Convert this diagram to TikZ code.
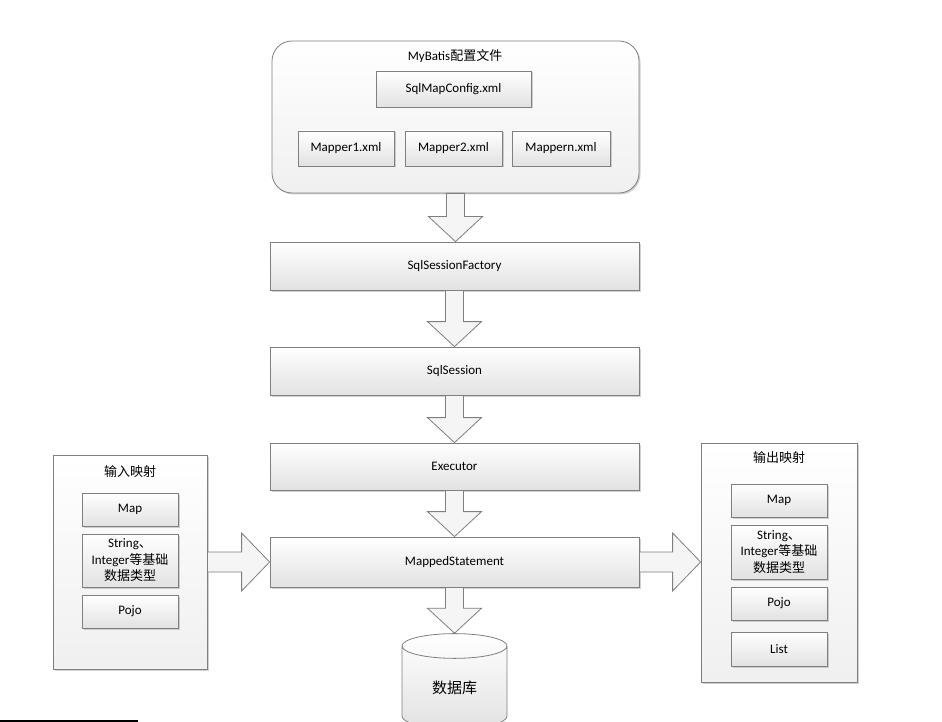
\documentclass[tikz,border=0pt]{standalone}
\usepackage{fontspec}
\setmainfont{Carlito}
\newfontfamily\cjk{Noto Sans CJK SC}
\usetikzlibrary{shapes.geometric,shadows,calc}

\definecolor{boxline}{HTML}{7F7F7F}
\definecolor{boxbot}{HTML}{E2E2E2}

% fat block arrows between two named nodes
\newcommand\fatdown[2]{%
  \draw[blockarrow] let \p1=(#1.south), \p2=(#2.north) in
    (\x1-9pt,\y1) -- (\x1-9pt,\y2+25pt) -- (\x1-27pt,\y2+25pt) -- (\x1,\y2)
    -- (\x1+27pt,\y2+25pt) -- (\x1+9pt,\y2+25pt) -- (\x1+9pt,\y1) -- cycle;}
\newcommand\fatright[2]{%
  \draw[blockarrow] let \p1=(#1.east), \p2=(#2.west) in
    (\x1,\y1+10pt) -- (\x2-28pt,\y1+10pt) -- (\x2-28pt,\y1+29pt) -- (\x2,\y1)
    -- (\x2-28pt,\y1-29pt) -- (\x2-28pt,\y1-10pt) -- (\x1,\y1-10pt) -- cycle;}

\begin{document}
\begin{tikzpicture}[x=1pt, y=-1pt,
    every node/.style={font=\fontsize{13}{16.5}\selectfont},
    box/.style={draw=boxline, line width=0.8pt, top color=white, bottom color=boxbot,
      drop shadow={shadow xshift=1.5pt, shadow yshift=-1.5pt, fill=black!30, opacity=0.6},
      inner sep=0pt, align=center},
    group/.style={box, top color=white, bottom color=black!6},
    title/.style={inner sep=0pt},
    blockarrow/.style={draw=boxline, line width=0.8pt, fill=black!4},
    dbcyl/.style={shape=cylinder, shape border rotate=90, aspect=0.55, draw=boxline,
      line width=0.8pt, top color=white, bottom color=boxbot, inner sep=0pt,
      font=\fontsize{15}{18}\selectfont}
    ]
    \useasboundingbox (0,0) rectangle (942,722);

    % MyBatis config group
    \node[group, rounded corners=20pt, minimum width=367pt, minimum height=152pt] (cfg) at (455.5,117) {};
    \node[title] (cfgtitle) at (455,56) {MyBatis{\cjk 配置文件}};
    \node[box, minimum width=155pt, minimum height=36pt] (smc) at (453.5,89) {SqlMapConfig.xml};
    \node[box, minimum width=96pt, minimum height=35pt] (m1) at (346,148.5) {Mapper1.xml};
    \node[box, minimum width=97pt, minimum height=35pt] (m2) at (453.5,148.5) {Mapper2.xml};
    \node[box, minimum width=98pt, minimum height=35pt] (mn) at (561,148.5) {Mappern.xml};

    % main chain
    \node[box, minimum width=369pt, minimum height=48pt] (ssf) at (454.5,266) {SqlSessionFactory};
    \node[box, minimum width=369pt, minimum height=48pt] (ss) at (454.5,371) {SqlSession};
    \node[box, minimum width=369pt, minimum height=47pt] (ex) at (454.5,466.5) {Executor};
    \node[box, minimum width=369pt, minimum height=50pt] (ms) at (454.5,562) {MappedStatement};
    \node[dbcyl, minimum width=105pt, minimum height=95pt] (db) at (454.5,687.5) {\cjk 数据库};

    % input mapping
    \node[group, minimum width=154pt, minimum height=214pt] (in) at (130,562) {};
    \node[title] (intitle) at (130,472) {\cjk 输入映射};
    \node[box, minimum width=96pt, minimum height=33pt] (imap) at (130,509.5) {Map};
    \node[box, minimum width=96pt, minimum height=53pt] (istr) at (130,560.5)
      {String{\cjk 、}\\Integer{\cjk 等基础}\\{\cjk 数据类型}};
    \node[box, minimum width=96pt, minimum height=33pt] (ipojo) at (130,611.5) {Pojo};

    % output mapping
    \node[group, minimum width=156pt, minimum height=239pt] (out) at (779,562.5) {};
    \node[title] (outtitle) at (779,458) {\cjk 输出映射};
    \node[box, minimum width=96pt, minimum height=33pt] (omap) at (779,500.5) {Map};
    \node[box, minimum width=96pt, minimum height=54pt] (ostr) at (779,552)
      {String{\cjk 、}\\Integer{\cjk 等基础}\\{\cjk 数据类型}};
    \node[box, minimum width=96pt, minimum height=33pt] (opojo) at (779,603.5) {Pojo};
    \node[box, minimum width=96pt, minimum height=34pt] (olist) at (779,649) {List};

    % block arrows
    \fatdown{cfg}{ssf}
    \fatdown{ssf}{ss}
    \fatdown{ss}{ex}
    \fatdown{ex}{ms}
    \fatdown{ms}{db}
    \fatright{in}{ms}
    \fatright{ms}{out}

    \draw[line width=1.5pt] (0,721) -- (138,721);
\end{tikzpicture}
\end{document}
